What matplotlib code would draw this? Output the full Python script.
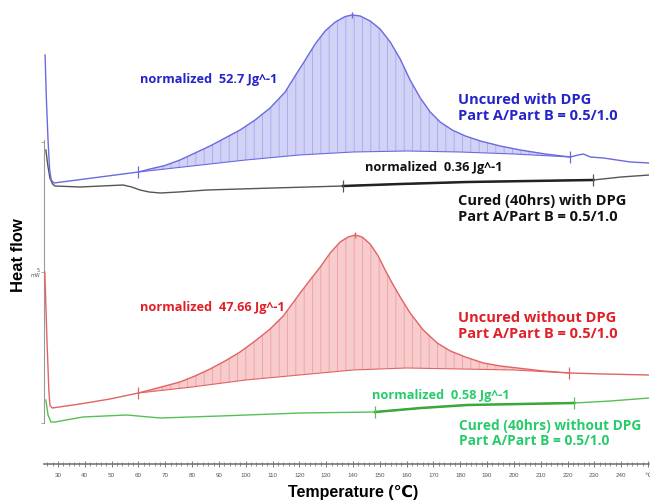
import numpy as np
import matplotlib
matplotlib.use("Agg")
import matplotlib.pyplot as plt
from matplotlib.ticker import MultipleLocator

plt.rcParams['hatch.linewidth'] = 0.6

# heat flow in display units (stacked curves, offset), temperature in degC
# --- Uncured with DPG (blue)
t_blue = [25.2, 25.7, 26.3, 26.9, 27.5, 28.5, 40, 50, 60, 64.3, 69.9, 75.5, 81.1, 86.7,
          92.3, 97.9, 103.5, 109.1, 114.7, 118.4, 122.2, 125.9, 129.6, 133.4, 137.1,
          139.7, 142.7, 146.4, 150.1, 153.9, 157.6, 161.3, 165.1, 168.8, 172.5, 177.0,
          181.9, 187.5, 194.9, 202.4, 211.7, 221.0, 224.0, 225.9, 228.5, 233.4, 243.4,
          250.5]
hf_blue = [445, 400, 360, 330, 320, 317, 321, 324.5, 328, 331, 334.5, 340, 347, 354,
           362, 370, 380, 392, 408, 424, 440, 456, 469, 478, 483.5,
           485, 484, 479, 471, 458, 441, 420, 402, 388, 378, 370,
           364, 359, 354, 350, 346, 343, 345, 346, 343, 342, 338,
           337]
tb_blue = [60, 80, 100, 120, 140, 160, 180, 200, 221]
base_blue = [328, 334, 340, 345, 348, 349, 348, 346, 343]
lim_blue = (60, 221.0)

# --- Cured (40hrs) with DPG (black)
t_black = [25.5, 26.2, 27.0, 28.0, 28.9, 38.2, 54.3, 57.5, 60.6, 64.0, 68.1, 75.0, 85.6,
           110.2, 136.3, 157.6, 182.6, 206, 229.6, 240, 250.5]
hf_black = [350, 335, 322, 316, 314, 313, 315, 313, 310, 308, 307, 308, 310,
            312, 314, 316, 318, 319, 320, 323, 325]
lim_black = (136.3, 229.6)

# --- Uncured without DPG (red)
t_red = [25.1, 25.9, 26.6, 27.0, 27.8, 38.2, 49.4, 60, 64.3, 69.9, 75.5, 81.1, 86.7,
         92.3, 97.9, 103.5, 109.1, 114.0, 118.4, 120.3, 124.0, 127.8, 131.5, 135.2,
         138.2, 140.8, 143.4, 146.4, 149.4, 152.0, 154.6, 157.6, 161.3, 166.2, 171.4,
         176.3, 181.9, 188.6, 194.9, 201.3, 211.0, 220.7, 233.4, 250.5]
hf_red = [228, 160, 110, 95, 92, 96, 101, 107, 110, 114, 118, 124, 131,
          139, 148, 159, 171, 184, 200, 207, 220, 233, 247, 258,
          263, 265, 263, 256, 244, 230, 217, 203, 187, 170, 157,
          149, 143, 137, 134, 132, 129, 127, 126, 125]
tb_red = [60, 80, 100, 120, 140, 160, 180, 200, 220.7]
base_red = [107, 113, 120, 125, 130, 132, 131, 130, 127]
lim_red = (60, 220.7)

# --- Cured (40hrs) without DPG (green)
t_green = [25.5, 26.3, 27.4, 28.9, 39.3, 55.7, 68.1, 90.4, 120.3, 148.3, 165.4, 182.6,
           202.4, 222.5, 236, 250.5]
hf_green = [100, 85, 78, 78, 83, 85, 82, 84, 87, 88, 92, 95,
            96, 97, 99, 102]
lim_green = (148.3, 222.5)

xticks = list(range(30, 250, 10))

fig = plt.figure(figsize=(6.5, 5), dpi=100)
ax = fig.add_axes([0.0677, 0.072, 0.9313, 0.928])
ax.set_xlim(24.8, 250.5)
ax.set_ylim(36, 500)


def draw(t, hf, color, lim, fill=None, hatch=None, tb=None, base=None, dark=None):
    t = np.array(t)
    hf = np.array(hf)
    if fill is not None:
        m = (t >= lim[0]) & (t <= lim[1])
        px = np.concatenate([t[m], tb[::-1]])
        py = np.concatenate([hf[m], base[::-1]])
        ax.fill(px, py, facecolor=fill, edgecolor=hatch, hatch='||', lw=0, zorder=1)
        ax.plot(tb, base, color=color, lw=0.8, zorder=2)
    ax.plot(t, hf, color=color, lw=1.0, zorder=3, solid_joinstyle='round')
    if dark is not None:
        m = (t >= lim[0]) & (t <= lim[1])
        ax.plot(t[m], hf[m], color=dark, lw=1.8, zorder=3)
    # integration limit marks
    for x0 in lim:
        i = np.argmin(np.abs(t - x0))
        ax.plot(t[i], hf[i], marker='|', ms=8, mew=0.9, color=color, zorder=4)


draw(t_black, hf_black, '#555555', lim_black, dark='#222222')
draw(t_green, hf_green, '#55c055', lim_green, dark='#3aa83a')
draw(t_blue, hf_blue, '#6a6ae0', lim_blue, fill='#d2d2f7', hatch='#a8a8ee',
     tb=tb_blue, base=base_blue)
draw(t_red, hf_red, '#e06464', lim_red, fill='#f8cccc', hatch='#eea0a0',
     tb=tb_red, base=base_red)

# peak marks
ax.plot(139.7, 485, marker='|', ms=4, color='#6a6ae0')
ax.plot(140.8, 265, marker='|', ms=4, color='#e06464')

# axes styling
for s in ['top', 'right']:
    ax.spines[s].set_visible(False)
ax.spines['left'].set_bounds(77, 360)
ax.spines['left'].set_color('#999999')
ax.spines['bottom'].set_color('#777777')
ax.spines['bottom'].set_linewidth(1.2)

ax.xaxis.set_major_locator(MultipleLocator(10))
ax.xaxis.set_minor_locator(MultipleLocator(2))
ax.set_xticks(xticks + [250])
ax.set_xticklabels([str(v) for v in xticks] + ['\u2103'],
                   fontsize=4.5, color='#555555', family=['Liberation Sans', 'DejaVu Sans'])
ax.tick_params(axis='x', which='major', direction='inout', length=5, width=0.7,
               color='#777777', pad=4)
ax.tick_params(axis='x', which='minor', direction='inout', length=3, width=0.6,
               color='#777777')

ax.set_yticks([77, 228, 358])
ax.set_yticklabels(['', '5\nmW', ''], fontsize=3.5, color='#555555')
ax.tick_params(axis='y', direction='out', length=2, width=0.6, color='#999999', pad=1)

fam = ['Liberation Sans', 'DejaVu Sans']
fig.text(0.028, 0.49, 'Heat flow', rotation=90, ha='center', va='center',
         fontsize=12, fontweight='bold', family=fam)
fig.text(0.544, 0.016, 'Temperature (\u2103)', ha='center', va='center',
         fontsize=11.5, fontweight='bold', family=fam)

tf = ['Open Sans', 'DejaVu Sans']
blue_t = '#2424c8'
red_t = '#e01f26'
green_t = '#26cc6a'
ns = 9.2
bs = 10.5
ax.text(60.6, 420, 'normalized  52.7 Jg^-1', color=blue_t, fontsize=ns,
        fontweight='bold', family=tf, va='center')
ax.text(179.3, 392, 'Uncured with DPG\nPart A/Part B = 0.5/1.0', color=blue_t,
        fontsize=bs, fontweight='bold', family=tf, va='center', linespacing=1.1)
ax.text(144.6, 333, 'normalized  0.36 Jg^-1', color='#111111', fontsize=ns,
        fontweight='bold', family=tf, va='center')
ax.text(179.3, 291, 'Cured (40hrs) with DPG\nPart A/Part B = 0.5/1.0', color='#111111',
        fontsize=bs, fontweight='bold', family=tf, va='center', linespacing=1.1)
ax.text(60.6, 192, 'normalized  47.66 Jg^-1', color=red_t, fontsize=ns,
        fontweight='bold', family=tf, va='center')
ax.text(179.3, 174, 'Uncured without DPG\nPart A/Part B = 0.5/1.0', color=red_t,
        fontsize=bs, fontweight='bold', family=tf, va='center', linespacing=1.1)
ax.text(147.2, 105, 'normalized  0.58 Jg^-1', color=green_t, fontsize=ns,
        fontweight='bold', family=tf, va='center')
ax.text(179.6, 66.5, 'Cured (40hrs) without DPG\nPart A/Part B = 0.5/1.0', color=green_t,
        fontsize=9.9, fontweight='bold', family=tf, va='center', linespacing=1.15)

fig.savefig('out.png', dpi=100)
